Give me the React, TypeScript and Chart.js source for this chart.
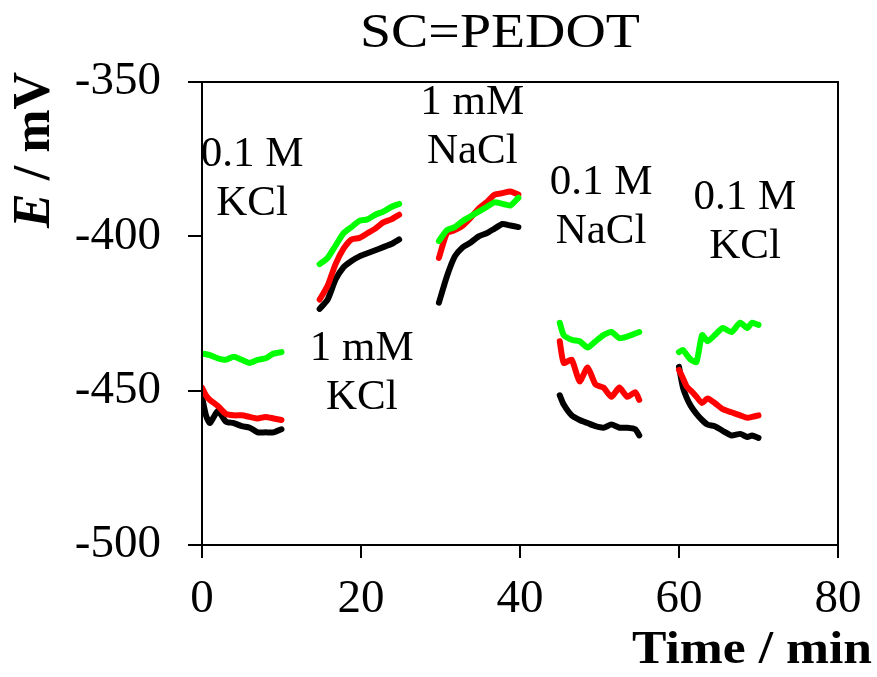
import React, { useEffect, useRef } from "react";
import { Chart, registerables } from "chart.js";

Chart.register(...registerables);

// ---------- data (Time / min, E / mV) ----------
const SEG1_T = [0, 0.5, 1, 2, 3, 4, 5, 6, 7, 8, 9, 10];
const SEG1_GREEN = [-438, -438.2, -438.5, -439.5, -440, -439, -440, -441, -440, -439.5, -438, -437.5];
const SEG1_RED = [-449, -451.5, -453, -455, -457.5, -458, -458, -458.5, -459, -458.5, -459, -459.5];
const SEG1_BLACK = [-452, -458, -460.5, -456.5, -460, -460.5, -461.5, -462, -463.5, -463.5, -463.5, -462.5];

const SEG2_T = [14.8, 15.8, 16.8, 17.8, 18.8, 19.8, 20.8, 21.8, 22.8, 23.8, 24.8];
const SEG2_GREEN = [-409, -407, -403, -399, -397, -395, -394.5, -393, -392, -390.5, -389.5];
const SEG2_RED = [-420.5, -416, -409, -404, -401, -400.5, -399, -397.5, -395.5, -394.5, -393];
const SEG2_BLACK = [-423.5, -420.5, -414, -410, -408, -406.5, -405.5, -404.5, -403.5, -402.5, -401];

const SEG3_T = [29.8, 30.8, 31.8, 32.8, 33.8, 34.8, 35.8, 36.8, 37.8, 38.8, 39.8];
const SEG3_GREEN = [-401.5, -398, -397, -395, -393.5, -392, -390.5, -389, -389.5, -390, -387.5];
const SEG3_RED = [-407, -399, -398, -396.5, -394, -391, -389, -386.5, -386, -385.5, -386.5];
const SEG3_BLACK = [-421.5, -413, -406.5, -403.5, -402, -400, -399, -397.5, -396, -396.5, -397];

const SEG4_T = [45, 45.5, 46.5, 47.5, 48.5, 49.5, 50.5, 51.5, 52.5, 53.5, 54.5, 55];
const SEG4_GREEN = [-428, -432, -433.5, -434, -436, -434, -432, -431, -433, -432.5, -431.5, -431];
const SEG4_RED = [-434, -441, -440, -447, -442.5, -448, -449, -452, -449, -452, -450.5, -453];
const SEG4_BLACK = [-451.5, -454.5, -458, -459.5, -460.5, -461.5, -462, -461, -462, -462, -462.5, -464.5];

const SEG5_T = [60, 60.5, 61, 61.5, 62.2, 62.9, 63.6, 64.5, 65.5, 66.6, 67.7, 68.6, 69.2, 70];
const SEG5_GREEN = [-437.5, -436.8, -438.5, -440, -440.7, -432, -434, -432, -429.7, -431, -428, -429.7, -428, -428.7];
const SEG5_RED = [-443.3, -446, -448.8, -450, -452, -454, -452.5, -454, -456, -457, -458, -458.8, -458.5, -458];
const SEG5_BLACK = [-442.3, -449, -452.5, -455, -457.5, -459.5, -461, -461.5, -463, -464.5, -464, -465, -464.5, -465.3];

const X_TICKS = [0, 20, 40, 60, 80];
const Y_TICKS = [-500, -450, -400, -350];

const TITLE = "SC=PEDOT";
const X_TITLE = "Time / min";
const Y_TITLE_ITALIC = "E";
const Y_TITLE_REST = " / mV";

// annotation labels: x (min), y (mV) of first line, line1, line2
const ANNOT_X = [6.3, 20.1, 34, 50.2, 68.3];
const ANNOT_Y = [-373.6, -436.5, -356.8, -382.7, -387.6];
const ANNOT_LINE1 = ["0.1 M", "1 mM", "1 mM", "0.1 M", "0.1 M"];
const ANNOT_LINE2 = ["KCl", "KCl", "NaCl", "NaCl", "KCl"];

const SEGMENTS = [
  { t: SEG1_T, g: SEG1_GREEN, r: SEG1_RED, k: SEG1_BLACK },
  { t: SEG2_T, g: SEG2_GREEN, r: SEG2_RED, k: SEG2_BLACK },
  { t: SEG3_T, g: SEG3_GREEN, r: SEG3_RED, k: SEG3_BLACK },
  { t: SEG4_T, g: SEG4_GREEN, r: SEG4_RED, k: SEG4_BLACK },
  { t: SEG5_T, g: SEG5_GREEN, r: SEG5_RED, k: SEG5_BLACK },
];

const COLORS = { k: "#000000", r: "#ff0000", g: "#00ff00" };
const FONT = '"Liberation Serif", "Times New Roman", serif';

function drawStretched(
  ctx: CanvasRenderingContext2D,
  text: string,
  x: number,
  y: number,
  font: string,
  targetWidth: number,
  align: "center" | "right"
) {
  ctx.save();
  ctx.font = font;
  const w = ctx.measureText(text).width;
  const sx = targetWidth / w;
  ctx.translate(x, y);
  ctx.scale(sx, 1);
  ctx.textAlign = align;
  ctx.textBaseline = "middle";
  ctx.fillStyle = "#000";
  ctx.fillText(text, 0, 0);
  ctx.restore();
}

const decorPlugin = {
  id: "decor",
  afterDraw(chart: any) {
    const ctx: CanvasRenderingContext2D = chart.ctx;
    const { left, right, top, bottom } = chart.chartArea;
    ctx.save();
    ctx.strokeStyle = "#000";
    ctx.lineWidth = 2;
    ctx.strokeRect(left, top, right - left, bottom - top);
    ctx.restore();

    // title
    drawStretched(ctx, TITLE, 500, 34, `48px ${FONT}`, 280, "center");
    // x title
    drawStretched(ctx, X_TITLE, 872, 651, `bold 47px ${FONT}`, 240, "right");

    // y title (rotated, E italic)
    ctx.save();
    ctx.translate(36, 150);
    ctx.rotate(-Math.PI / 2);
    const fI = `italic bold 52px ${FONT}`;
    const fB = `bold 52px ${FONT}`;
    ctx.font = fI;
    const wE = ctx.measureText(Y_TITLE_ITALIC).width;
    ctx.font = fB;
    const wR = ctx.measureText(Y_TITLE_REST).width;
    const sx = 156 / (wE + wR);
    ctx.scale(sx, 1);
    const start = -(wE + wR) / 2;
    ctx.textBaseline = "middle";
    ctx.textAlign = "left";
    ctx.fillStyle = "#000";
    ctx.font = fI;
    ctx.fillText(Y_TITLE_ITALIC, start, 0);
    ctx.font = fB;
    ctx.fillText(Y_TITLE_REST, start + wE, 0);
    ctx.restore();

    // annotations
    const xs = chart.scales.x;
    const ys = chart.scales.y;
    ctx.save();
    ctx.font = `43px ${FONT}`;
    ctx.textAlign = "center";
    ctx.textBaseline = "middle";
    ctx.fillStyle = "#000";
    for (let i = 0; i < ANNOT_X.length; i++) {
      const px = xs.getPixelForValue(ANNOT_X[i]);
      const py = ys.getPixelForValue(ANNOT_Y[i]);
      ctx.fillText(ANNOT_LINE1[i], px, py);
      ctx.fillText(ANNOT_LINE2[i], px, py + 49);
    }
    ctx.restore();
  },
};

export default function App() {
  const ref = useRef<HTMLCanvasElement | null>(null);

  useEffect(() => {
    document.body.style.margin = "0";
    if (!ref.current) return;
    const datasets: any[] = [];
    SEGMENTS.forEach((seg) => {
      (["g", "r", "k"] as const).forEach((c) => {
        datasets.push({
          data: seg.t.map((t, i) => ({ x: t, y: (seg as any)[c][i] })),
          borderColor: COLORS[c],
          backgroundColor: COLORS[c],
          borderWidth: 6,
          pointRadius: 0,
          tension: 0.2,
          borderCapStyle: "round",
          borderJoinStyle: "round",
          fill: false,
        });
      });
    });

    const chart = new Chart(ref.current, {
      type: "line",
      data: { datasets },
      options: {
        animation: false,
        responsive: false,
        maintainAspectRatio: false,
        layout: { padding: { top: 82, right: 39, left: 0, bottom: 0 } },
        plugins: { legend: { display: false }, title: { display: false }, tooltip: { enabled: false } },
        scales: {
          x: {
            type: "linear",
            min: 0,
            max: 80,
            afterBuildTicks: (s: any) => {
              s.ticks = X_TICKS.map((v) => ({ value: v }));
            },
            afterFit: (s: any) => {
              s.height = 132;
            },
            ticks: {
              font: { family: FONT, size: 47 },
              color: "#000",
              padding: 13,
              maxRotation: 0,
              autoSkip: false,
            },
            grid: { drawOnChartArea: false, drawTicks: true, tickLength: 13, color: "#000", lineWidth: 2 },
            border: { display: true, color: "#000", width: 2 },
          },
          y: {
            type: "linear",
            min: -500,
            max: -350,
            afterBuildTicks: (s: any) => {
              s.ticks = Y_TICKS.map((v) => ({ value: v }));
            },
            afterFit: (s: any) => {
              s.width = 202;
            },
            ticks: {
              font: { family: FONT, size: 47 },
              color: "#000",
              padding: 27,
              autoSkip: false,
            },
            grid: { drawOnChartArea: false, drawTicks: true, tickLength: 14, color: "#000", lineWidth: 2 },
            border: { display: true, color: "#000", width: 2 },
          },
        },
      },
      plugins: [decorPlugin],
    });
    return () => chart.destroy();
  }, []);

  return (
    <div style={{ position: "absolute", left: 0, top: 0, width: 877, height: 677, background: "#fff" }}>
      <canvas ref={ref} width={877} height={677} style={{ width: 877, height: 677, display: "block" }} />
    </div>
  );
}
